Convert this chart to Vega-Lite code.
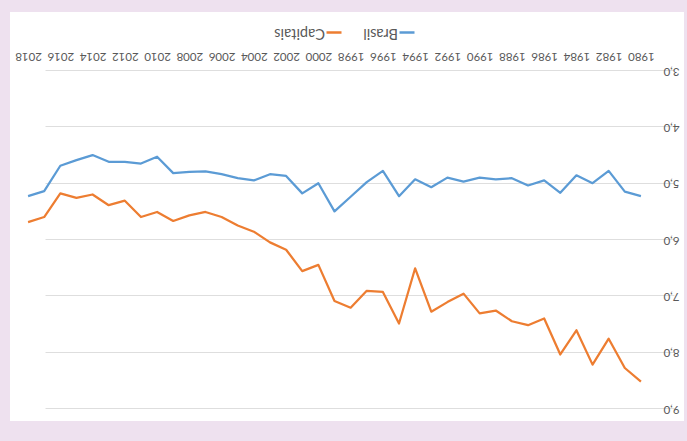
{
  "$schema": "https://vega.github.io/schema/vega-lite/v6.json",
  "width": 674,
  "height": 409,
  "autosize": {"type": "none"},
  "padding": {"left": 10, "top": 12, "right": 3, "bottom": 20},
  "background": "#eee1ef",
  "config": {
    "view": {"fill": "#ffffff", "stroke": null},
    "font": "Lato",
    "axis": {"labelFont": "Lato", "labelColor": "#595959", "labelFontSize": 11.5, "domain": false, "ticks": false, "title": null},
    "legend": {"labelFont": "Lato", "labelColor": "#595959", "labelFontSize": 14.5}
  },
  "data": {"values": [
    {"year": 1980, "serie": "Brasil", "value": 5.24},
    {"year": 1981, "serie": "Brasil", "value": 5.16},
    {"year": 1982, "serie": "Brasil", "value": 4.79},
    {"year": 1983, "serie": "Brasil", "value": 5.01},
    {"year": 1984, "serie": "Brasil", "value": 4.87},
    {"year": 1985, "serie": "Brasil", "value": 5.18},
    {"year": 1986, "serie": "Brasil", "value": 4.96},
    {"year": 1987, "serie": "Brasil", "value": 5.05},
    {"year": 1988, "serie": "Brasil", "value": 4.92},
    {"year": 1989, "serie": "Brasil", "value": 4.94},
    {"year": 1990, "serie": "Brasil", "value": 4.91},
    {"year": 1991, "serie": "Brasil", "value": 4.98},
    {"year": 1992, "serie": "Brasil", "value": 4.91},
    {"year": 1993, "serie": "Brasil", "value": 5.08},
    {"year": 1994, "serie": "Brasil", "value": 4.94},
    {"year": 1995, "serie": "Brasil", "value": 5.24},
    {"year": 1996, "serie": "Brasil", "value": 4.79},
    {"year": 1997, "serie": "Brasil", "value": 4.99},
    {"year": 1998, "serie": "Brasil", "value": 5.25},
    {"year": 1999, "serie": "Brasil", "value": 5.51},
    {"year": 2000, "serie": "Brasil", "value": 5.01},
    {"year": 2001, "serie": "Brasil", "value": 5.19},
    {"year": 2002, "serie": "Brasil", "value": 4.88},
    {"year": 2003, "serie": "Brasil", "value": 4.85},
    {"year": 2004, "serie": "Brasil", "value": 4.96},
    {"year": 2005, "serie": "Brasil", "value": 4.92},
    {"year": 2006, "serie": "Brasil", "value": 4.85},
    {"year": 2007, "serie": "Brasil", "value": 4.80},
    {"year": 2008, "serie": "Brasil", "value": 4.81},
    {"year": 2009, "serie": "Brasil", "value": 4.83},
    {"year": 2010, "serie": "Brasil", "value": 4.54},
    {"year": 2011, "serie": "Brasil", "value": 4.66},
    {"year": 2012, "serie": "Brasil", "value": 4.63},
    {"year": 2013, "serie": "Brasil", "value": 4.63},
    {"year": 2014, "serie": "Brasil", "value": 4.51},
    {"year": 2015, "serie": "Brasil", "value": 4.60},
    {"year": 2016, "serie": "Brasil", "value": 4.70},
    {"year": 2017, "serie": "Brasil", "value": 5.15},
    {"year": 2018, "serie": "Brasil", "value": 5.24},
    {"year": 1980, "serie": "Capitais", "value": 8.53},
    {"year": 1981, "serie": "Capitais", "value": 8.29},
    {"year": 1982, "serie": "Capitais", "value": 7.77},
    {"year": 1983, "serie": "Capitais", "value": 8.23},
    {"year": 1984, "serie": "Capitais", "value": 7.62},
    {"year": 1985, "serie": "Capitais", "value": 8.05},
    {"year": 1986, "serie": "Capitais", "value": 7.41},
    {"year": 1987, "serie": "Capitais", "value": 7.53},
    {"year": 1988, "serie": "Capitais", "value": 7.46},
    {"year": 1989, "serie": "Capitais", "value": 7.27},
    {"year": 1990, "serie": "Capitais", "value": 7.32},
    {"year": 1991, "serie": "Capitais", "value": 6.97},
    {"year": 1992, "serie": "Capitais", "value": 7.12},
    {"year": 1993, "serie": "Capitais", "value": 7.29},
    {"year": 1994, "serie": "Capitais", "value": 6.52},
    {"year": 1995, "serie": "Capitais", "value": 7.50},
    {"year": 1996, "serie": "Capitais", "value": 6.94},
    {"year": 1997, "serie": "Capitais", "value": 6.92},
    {"year": 1998, "serie": "Capitais", "value": 7.22},
    {"year": 1999, "serie": "Capitais", "value": 7.10},
    {"year": 2000, "serie": "Capitais", "value": 6.46},
    {"year": 2001, "serie": "Capitais", "value": 6.57},
    {"year": 2002, "serie": "Capitais", "value": 6.19},
    {"year": 2003, "serie": "Capitais", "value": 6.06},
    {"year": 2004, "serie": "Capitais", "value": 5.87},
    {"year": 2005, "serie": "Capitais", "value": 5.76},
    {"year": 2006, "serie": "Capitais", "value": 5.61},
    {"year": 2007, "serie": "Capitais", "value": 5.52},
    {"year": 2008, "serie": "Capitais", "value": 5.58},
    {"year": 2009, "serie": "Capitais", "value": 5.68},
    {"year": 2010, "serie": "Capitais", "value": 5.52},
    {"year": 2011, "serie": "Capitais", "value": 5.61},
    {"year": 2012, "serie": "Capitais", "value": 5.32},
    {"year": 2013, "serie": "Capitais", "value": 5.40},
    {"year": 2014, "serie": "Capitais", "value": 5.21},
    {"year": 2015, "serie": "Capitais", "value": 5.27},
    {"year": 2016, "serie": "Capitais", "value": 5.19},
    {"year": 2017, "serie": "Capitais", "value": 5.61},
    {"year": 2018, "serie": "Capitais", "value": 5.70}
  ]},
  "mark": {"type": "line", "strokeWidth": 2.25, "strokeJoin": "round", "clip": false},
  "encoding": {
    "x": {
      "field": "year",
      "type": "quantitative",
      "scale": {"domain": [1979.5, 2018.5], "range": [639, 10], "nice": false, "zero": false},
      "axis": {
        "orient": "top",
        "offset": -58,
        "grid": false,
        "values": [1980, 1982, 1984, 1986, 1988, 1990, 1992, 1994, 1996, 1998, 2000, 2002, 2004, 2006, 2008, 2010, 2012, 2014, 2016, 2018],
        "format": "d",
        "labelAngle": 180,
        "labelAlign": "center",
        "labelBaseline": "middle",
        "labelPadding": 15,
        "labelOverlap": false,
        "labelFlush": false
      }
    },
    "y": {
      "field": "value",
      "type": "quantitative",
      "scale": {"domain": [3, 9], "range": [58, 396], "nice": false, "zero": false},
      "axis": {
        "orient": "right",
        "offset": -35,
        "grid": true,
        "gridColor": "#dedede",
        "gridWidth": 1,
        "values": [3, 4, 5, 6, 7, 8, 9],
        "labelExpr": "replace(format(datum.value, '.1f'), '.', ',')",
        "labelAngle": 180,
        "labelAlign": "right",
        "labelBaseline": "middle",
        "labelPadding": 14,
        "labelFlush": false,
        "labelOverlap": false
      }
    },
    "color": {
      "field": "serie",
      "type": "nominal",
      "scale": {"domain": ["Capitais", "Brasil"], "range": ["#ED7D31", "#5B9BD5"]},
      "legend": {
        "title": null,
        "orient": "none",
        "direction": "horizontal",
        "legendX": 315,
        "legendY": 11,
        "symbolType": "stroke",
        "symbolStrokeWidth": 2.5,
        "symbolSize": 225,
        "labelOffset": -18,
        "labelAlign": "left",
        "columnPadding": 16,
        "encode": {"labels": {"update": {"angle": {"value": 180}}}}
      }
    }
  }
}
